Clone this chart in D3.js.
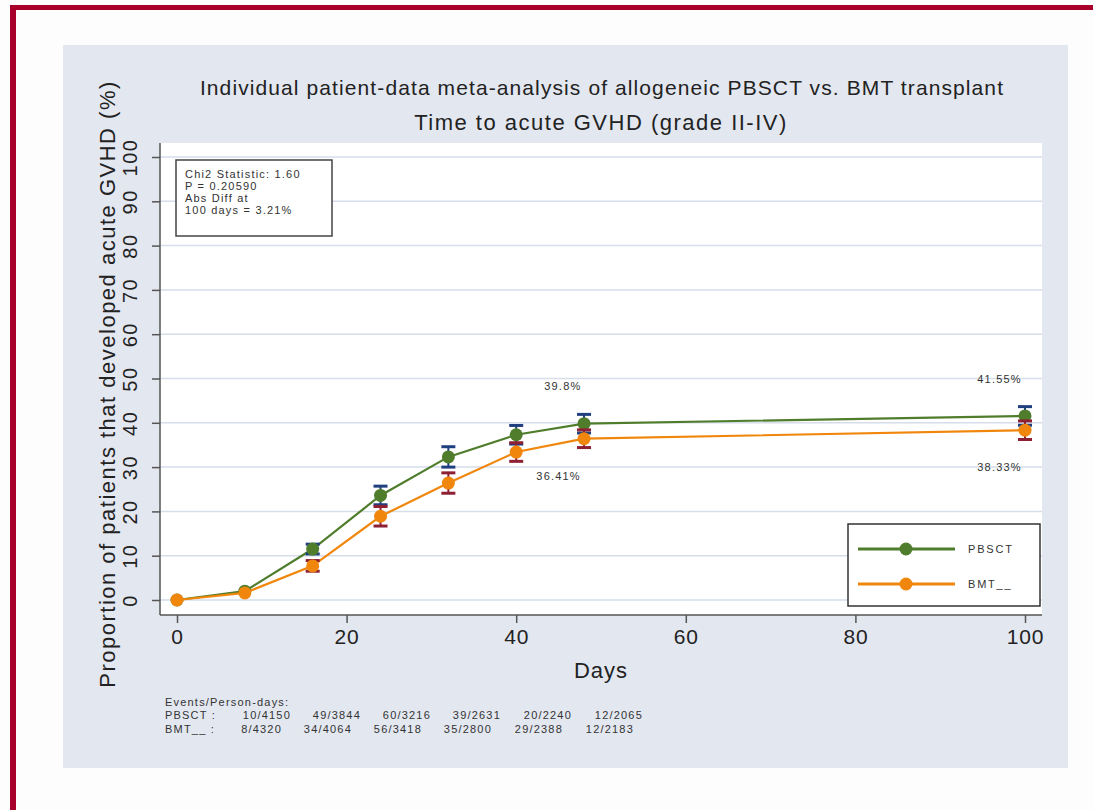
<!DOCTYPE html>
<html>
<head>
<meta charset="utf-8">
<script src="https://cdn.jsdelivr.net/npm/d3@7"></script>
<style>
  body { margin: 0; background: #fdfdfd; }
  svg { display: block; font-family: "Liberation Sans", Arial, sans-serif; }
</style>
</head>
<body>
<div id="chart"></div>
<script>
var days = [0, 8, 16, 24, 32, 40, 48, 100];
var pbsct = [0, 2.0, 11.5, 23.6, 32.3, 37.3, 39.8, 41.55];
var pbsctErr = [0, 0, 1.1, 2.1, 2.3, 2.1, 2.1, 2.1];
var bmt = [0, 1.6, 7.7, 18.9, 26.4, 33.4, 36.41, 38.33];
var bmtErr = [0, 0, 1.2, 2.2, 2.3, 2.1, 2.0, 2.1];
var xTicks = [0, 20, 40, 60, 80, 100];
var yTicks = [0, 10, 20, 30, 40, 50, 60, 70, 80, 90, 100];
var valueLabels = [
    { day: 45.5, y: 47.5, text: "39.8%" },
    { day: 45, y: 27.1, text: "36.41%" },
    { day: 97, y: 48.9, text: "41.55%" },
    { day: 97, y: 29.2, text: "38.33%" }
];
var statLines = ["Chi2 Statistic:  1.60", "P = 0.20590", "Abs Diff at", "100 days  = 3.21%"];
var eventRows = ["PBSCT :", "BMT__ :"];
var pbsctEvents = ["10/4150", "49/3844", "60/3216", "39/2631", "20/2240", "12/2065"];
var bmtEvents = ["8/4320", "34/4064", "56/3418", "35/2800", "29/2388", "12/2183"];

var width = 1093, height = 810;
var green = "#4f7d2c", orange = "#f0860c";
var navy = "#1f3f7f", darkRed = "#8e2034";
var smallSpacing = "1.2px";

var svg = d3.select("#chart").append("svg")
    .attr("width", width)
    .attr("height", height);

// outer frame (only top and left visible)
svg.append("rect").attr("x", 0).attr("y", 0).attr("width", width).attr("height", height).attr("fill", "#fdfdfd");
svg.append("rect").attr("x", 10).attr("y", 5).attr("width", width - 10).attr("height", 5).attr("fill", "#a8002a");
svg.append("rect").attr("x", 10).attr("y", 5).attr("width", 6).attr("height", height - 5).attr("fill", "#a8002a");

// grey panel
svg.append("rect").attr("x", 63).attr("y", 45).attr("width", 1005).attr("height", 723).attr("fill", "#e3e7f0");

var plot = { left: 160, top: 143, right: 1042, bottom: 615 };
svg.append("rect")
    .attr("x", plot.left).attr("y", plot.top)
    .attr("width", plot.right - plot.left).attr("height", plot.bottom - plot.top)
    .attr("fill", "#ffffff");

var xScale = d3.scaleLinear().domain([0, 100]).range([177, 1025]);
var yScale = d3.scaleLinear().domain([0, 100]).range([600, 157]);

// grid
svg.append("g").selectAll("line").data(yTicks).join("line")
    .attr("x1", plot.left).attr("x2", plot.right)
    .attr("y1", d => yScale(d)).attr("y2", d => yScale(d))
    .attr("stroke", "#d6deea").attr("stroke-width", 1.5);

// axes
var xAxis = svg.append("g")
    .attr("transform", `translate(0,${plot.bottom})`)
    .call(d3.axisBottom(xScale).tickValues(xTicks).tickSize(8).tickPadding(6).tickFormat(d3.format("d")));
xAxis.select(".domain").attr("d", `M${plot.left},0H${plot.right}`).attr("stroke", "#555").attr("stroke-width", 1.5);
xAxis.selectAll(".tick line").attr("stroke", "#555").attr("stroke-width", 1.5);
xAxis.selectAll("text").attr("fill", "#222")
    .style("font-size", "21px").style("letter-spacing", "0.8px").style("font-family", "Liberation Sans, Arial");

var yAxis = svg.append("g")
    .attr("transform", `translate(${plot.left},0)`)
    .call(d3.axisLeft(yScale).tickValues(yTicks).tickSize(8).tickPadding(6));
yAxis.select(".domain").attr("d", `M0,${plot.top}V${plot.bottom}`).attr("stroke", "#555").attr("stroke-width", 1.5);
yAxis.selectAll(".tick line").attr("stroke", "#555").attr("stroke-width", 1.5);
yAxis.selectAll(".tick text")
    .attr("fill", "#222")
    .attr("dy", null).attr("x", 0).attr("y", -23)
    .attr("transform", "rotate(-90)")
    .attr("text-anchor", "middle")
    .style("font-size", "20px").style("letter-spacing", "1.5px").style("font-family", "Liberation Sans, Arial");

// titles
svg.append("text").attr("x", 602).attr("y", 95).attr("text-anchor", "middle")
    .style("font-size", "21px").style("letter-spacing", "1.1px").attr("fill", "#222")
    .text("Individual patient-data meta-analysis of allogeneic PBSCT vs. BMT transplant");
svg.append("text").attr("x", 601).attr("y", 130).attr("text-anchor", "middle")
    .style("font-size", "22px").style("letter-spacing", "1.5px").attr("fill", "#222")
    .text("Time to acute GVHD (grade II-IV)");
svg.append("text").attr("x", 601).attr("y", 678).attr("text-anchor", "middle")
    .style("font-size", "22px").style("letter-spacing", "1px").attr("fill", "#222").text("Days");
svg.append("text").attr("transform", "translate(115,384) rotate(-90)").attr("text-anchor", "middle")
    .style("font-size", "22px").style("letter-spacing", "1.5px").attr("fill", "#222")
    .text("Proportion of patients that developed acute GVHD (%)");

// series
function drawSeries(vals, errs, color, capColor) {
    var pts = days.map((d, i) => ({ day: d, v: vals[i], e: errs[i] }));
    var g = svg.append("g");
    g.append("path").datum(pts)
        .attr("fill", "none").attr("stroke", color).attr("stroke-width", 2.2)
        .attr("d", d3.line().x(p => xScale(p.day)).y(p => yScale(p.v)));
    var eb = pts.filter(p => p.e > 0);
    g.selectAll("line.eb").data(eb).join("line")
        .attr("x1", p => xScale(p.day)).attr("x2", p => xScale(p.day))
        .attr("y1", p => yScale(p.v - p.e)).attr("y2", p => yScale(p.v + p.e))
        .attr("stroke", capColor).attr("stroke-width", 2);
    [-1, 1].forEach(s => {
        g.selectAll("line.cap" + s).data(eb).join("line")
            .attr("x1", p => xScale(p.day) - 7).attr("x2", p => xScale(p.day) + 7)
            .attr("y1", p => yScale(p.v + s * p.e)).attr("y2", p => yScale(p.v + s * p.e))
            .attr("stroke", capColor).attr("stroke-width", 3);
    });
    g.selectAll("circle").data(pts).join("circle")
        .attr("cx", p => xScale(p.day)).attr("cy", p => yScale(p.v))
        .attr("r", 6.5).attr("fill", color);
}
drawSeries(pbsct, pbsctErr, green, navy);
drawSeries(bmt, bmtErr, orange, darkRed);

// value labels
svg.append("g").selectAll("text").data(valueLabels).join("text")
    .attr("x", d => xScale(d.day)).attr("y", d => yScale(d.y))
    .attr("text-anchor", "middle").style("font-size", "11px").style("letter-spacing", smallSpacing)
    .attr("fill", "#333")
    .text(d => d.text);

// stats box
svg.append("rect").attr("x", 176).attr("y", 160).attr("width", 156).attr("height", 76)
    .attr("fill", "#fff").attr("stroke", "#444").attr("stroke-width", 1.5);
svg.append("g").selectAll("text").data(statLines).join("text")
    .attr("x", 185).attr("y", (d, i) => 178 + i * 12)
    .style("font-size", "11px").style("letter-spacing", smallSpacing)
    .attr("fill", "#333").text(d => d);

// legend
svg.append("rect").attr("x", 848).attr("y", 524).attr("width", 192).attr("height", 82)
    .attr("fill", "#fff").attr("stroke", "#333").attr("stroke-width", 1.5);
[["PBSCT", green, 549], ["BMT__", orange, 584]].forEach(item => {
    svg.append("line").attr("x1", 858).attr("x2", 955).attr("y1", item[2]).attr("y2", item[2])
        .attr("stroke", item[1]).attr("stroke-width", 3);
    svg.append("circle").attr("cx", 906).attr("cy", item[2]).attr("r", 6.5).attr("fill", item[1]);
    svg.append("text").attr("x", 968).attr("y", item[2] + 4)
        .style("font-size", "11px").style("letter-spacing", "1.8px")
        .attr("fill", "#333").text(item[0]);
});

// events table
svg.append("text").attr("x", 165).attr("y", 706)
    .style("font-size", "11px").style("letter-spacing", smallSpacing).attr("fill", "#333")
    .text("Events/Person-days:");
var colEnds = [291, 361, 431, 501, 572, 643];
[pbsctEvents, bmtEvents].forEach((row, r) => {
    var y = 719 + r * 14;
    svg.append("text").attr("x", 165).attr("y", y)
        .style("font-size", "11px").style("letter-spacing", smallSpacing)
        .attr("fill", "#333").text(eventRows[r]);
    svg.append("g").selectAll("text").data(row).join("text")
        .attr("x", (d, i) => colEnds[i] - r * 9).attr("y", y)
        .attr("text-anchor", "end")
        .style("font-size", "11px").style("letter-spacing", smallSpacing)
        .attr("fill", "#333")
        .text(d => d);
});
</script>
</body>
</html>
